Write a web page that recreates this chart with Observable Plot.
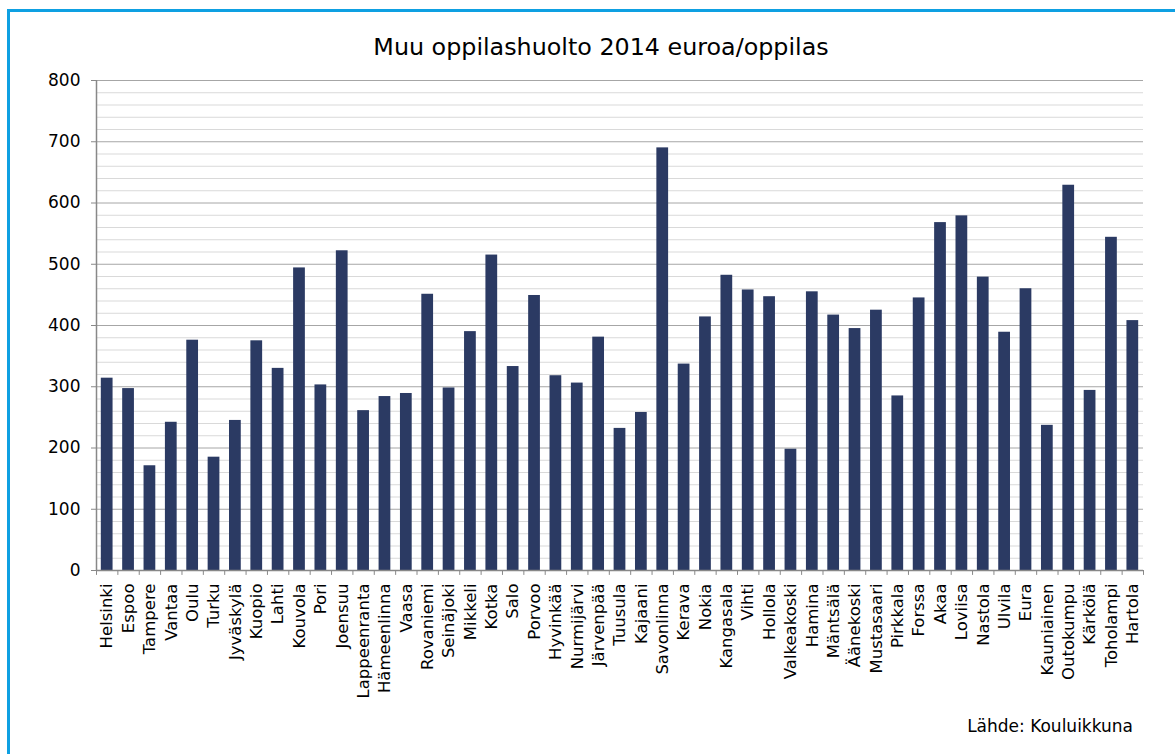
<!DOCTYPE html>
<html>
<head>
<meta charset="utf-8">
<script src="https://cdn.jsdelivr.net/npm/d3@7"></script>
<script src="https://cdn.jsdelivr.net/npm/@observablehq/plot@0.6"></script>
<style>
  html, body { margin: 0; padding: 0; background: #fff; }
  #wrap { position: relative; width: 1175px; height: 754px; overflow: hidden; background: #fff;
          font-family: "DejaVu Sans", Verdana, sans-serif; color: #000; }
  #frame { position: absolute; left: 7px; top: 9px; width: 1400px; height: 1000px;
           border-left: 3px solid #0ea0e2; border-top: 3px solid #0ea0e2; }
  #title { position: absolute; left: 0; top: 33px; width: 1202px; text-align: center;
           font-size: 23.8px; line-height: normal; }
  #caption { position: absolute; right: 42px; top: 716px; font-size: 17px; line-height: normal; }
  #chart { position: absolute; left: 0; top: 60px; }
</style>
</head>
<body>
<div id="wrap">
  <div id="frame"></div>
  <div id="title">Muu oppilashuolto 2014 euroa/oppilas</div>
  <div id="chart"></div>
  <div id="caption">Lähde: Kouluikkuna</div>
</div>
<script>
const cities = ["Helsinki","Espoo","Tampere","Vantaa","Oulu","Turku","Jyväskylä","Kuopio","Lahti","Kouvola",
  "Pori","Joensuu","Lappeenranta","Hämeenlinna","Vaasa","Rovaniemi","Seinäjoki","Mikkeli","Kotka","Salo",
  "Porvoo","Hyvinkää","Nurmijärvi","Järvenpää","Tuusula","Kajaani","Savonlinna","Kerava","Nokia","Kangasala",
  "Vihti","Hollola","Valkeakoski","Hamina","Mäntsälä","Äänekoski","Mustasaari","Pirkkala","Forssa","Akaa",
  "Loviisa","Nastola","Ulvila","Eura","Kauniainen","Outokumpu","Kärkölä","Toholampi","Hartola"];
const values = [314, 297, 171, 242, 376, 185, 245, 375, 330, 494,
  303, 522, 261, 284, 289, 451, 298, 390, 515, 333,
  449, 318, 306, 381, 232, 258, 690, 337, 414, 482,
  458, 447, 198, 455, 417, 395, 425, 285, 445, 568,
  579, 479, 389, 460, 237, 629, 294, 544, 408];
const majorTicks = [0, 100, 200, 300, 400, 500, 600, 700, 800];
const minorTicks = [20, 40, 60, 80, 120, 140, 160, 180, 220, 240, 260, 280, 320, 340, 360, 380,
  420, 440, 460, 480, 520, 540, 560, 580, 620, 640, 660, 680, 720, 740, 760, 780];

const data = cities.map((c, i) => ({city: c, value: values[i]}));

const width = 1175, height = 694;
const mLeft = 96, mRight = 32;
const step = (width - mLeft - mRight) / cities.length;

const chart = Plot.plot({
  width, height,
  marginLeft: mLeft, marginRight: mRight, marginTop: 20, marginBottom: 184,
  style: {fontFamily: "'DejaVu Sans', Verdana, sans-serif", fontSize: "16px", color: "#000", background: "transparent"},
  x: {domain: cities, paddingInner: 0.45, paddingOuter: 0.225, round: false, label: null},
  y: {domain: [0, 800], label: null},
  marks: [
    Plot.ruleY(minorTicks, {stroke: "#d9d9d9", strokeWidth: 1}),
    Plot.ruleY(majorTicks, {stroke: "#a6a6a6", strokeWidth: 1}),
    Plot.barY(data, {x: "city", y: "value", fill: "#2b3a63"}),
    Plot.axisY({ticks: majorTicks, tickSize: 5, tickPadding: 11, fontSize: 17, stroke: "#888", label: null}),
    Plot.axisX({tickSize: 0, tickRotate: -90, tickPadding: 13, fontSize: 16.5, label: null}),
    Plot.ruleX(cities, {x: d => d, y1: 0, y2: -8, dx: -step / 2, stroke: "#888"}),
    Plot.ruleX([cities[cities.length - 1]], {x: d => d, y1: 0, y2: -8, dx: step / 2, stroke: "#888"}),
    Plot.ruleX([cities[0]], {x: d => d, y1: 0, y2: 800, dx: -step / 2, stroke: "#888", strokeWidth: 1.5}),
    Plot.ruleY([0], {stroke: "#888", strokeWidth: 1.5})
  ]
});
document.getElementById("chart").appendChild(chart);
</script>
</body>
</html>
